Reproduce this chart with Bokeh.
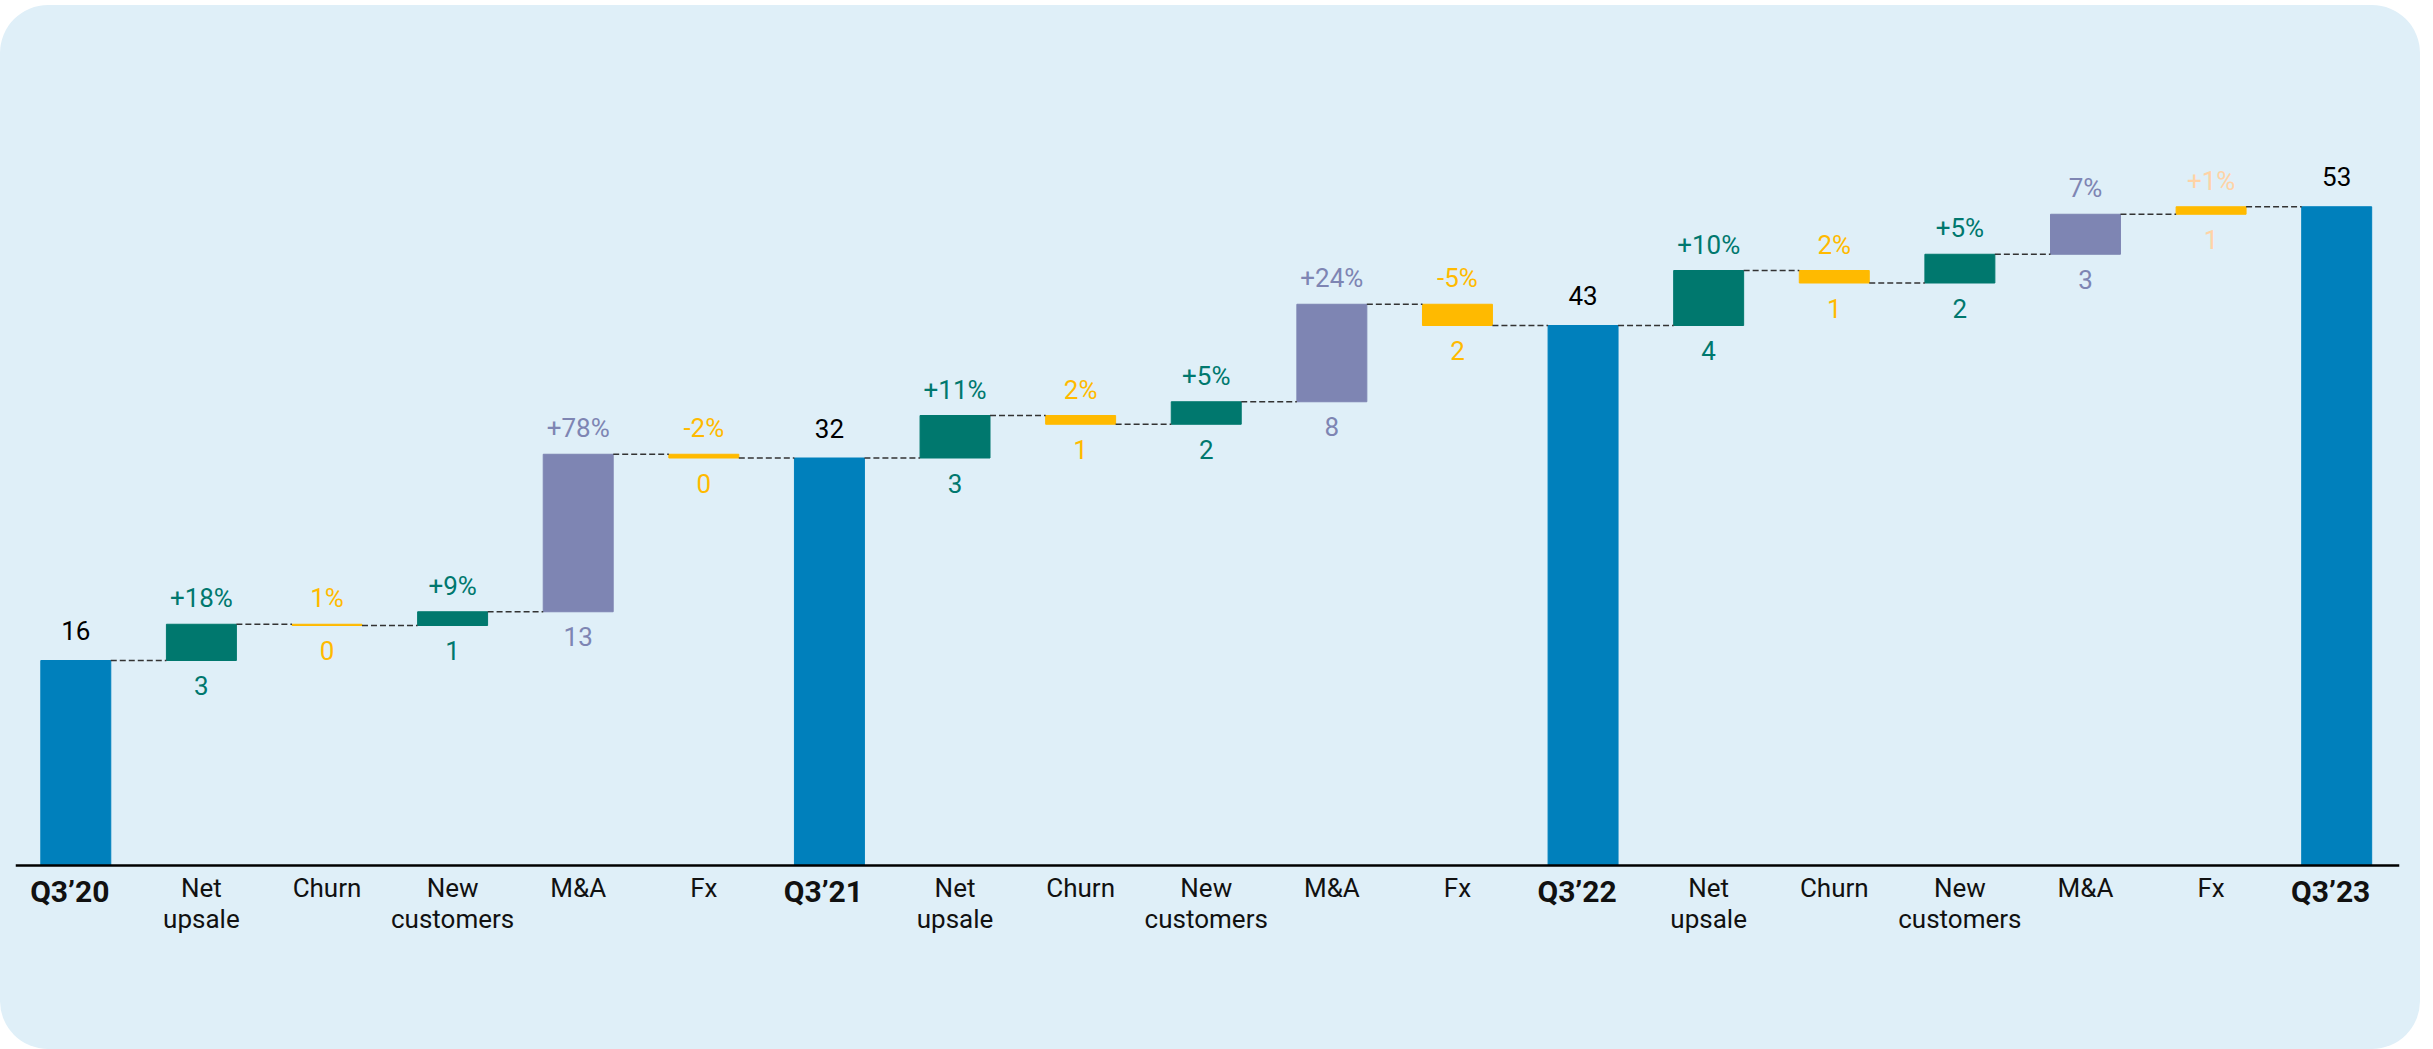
from bokeh.plotting import figure
from bokeh.models import Range1d, ColumnDataSource, Span
from bokeh.core.properties import value
from bokeh.embed import file_html
from bokeh.resources import INLINE

# ---------------- data ----------------
periods = ["Q3\u201920", "Q3\u201921", "Q3\u201922", "Q3\u201923"]
drivers = ["Net\nupsale", "Churn", "New\ncustomers", "M&A", "Fx"]

totals = [16.4, 32.6, 43.2, 52.7]          # bar heights as drawn
total_labels = ["16", "32", "43", "53"]

net_upsale = [2.9, 3.4, 4.4]
churn = [-0.1, -0.7, -1.0]
new_customers = [1.1, 1.8, 2.3]
m_and_a = [12.6, 7.8, 3.2]
fx = [-0.3, -1.7, 0.6]

pct_labels = [
    ["+18%", "1%", "+9%", "+78%", "-2%"],
    ["+11%", "2%", "+5%", "+24%", "-5%"],
    ["+10%", "2%", "+5%", "7%", "+1%"],
]
value_labels = [
    ["3", "0", "1", "13", "0"],
    ["3", "1", "2", "8", "2"],
    ["4", "1", "2", "3", "1"],
]

# ---------------- styling ----------------
BLUE = "#0080BC"
GREEN = "#00786E"
YELLOW = "#FFBA00"
PURPLE = "#7E85B3"
PEACH = "#FFD3A6"
BG = "#DFEFF8"
FONT = "Roboto"
driver_colors = [GREEN, YELLOW, GREEN, PURPLE, YELLOW]
W = 0.557

# ---------------- build waterfall ----------------
xs, bottoms, tops, colors = [], [], [], []
levels = []
top_text, top_x, top_y, top_col = [], [], [], []
bot_text, bot_x, bot_y, bot_col = [], [], [], []
tot_x, tot_y, tot_t = [], [], []
cat_x, cat_t, q_x, q_t = [], [], [], []

changes = [net_upsale, churn, new_customers, m_and_a, fx]
x = 0
for k in range(4):
    xs.append(x); bottoms.append(0); tops.append(totals[k]); colors.append(BLUE)
    levels.append(totals[k])
    tot_x.append(x); tot_y.append(totals[k]); tot_t.append(total_labels[k])
    q_x.append(x); q_t.append(periods[k])
    x += 1
    if k == 3:
        break
    level = totals[k]
    for j in range(5):
        d = changes[j][k]
        b, t = min(level, level + d), max(level, level + d)
        level += d
        xs.append(x); bottoms.append(b); tops.append(t); colors.append(driver_colors[j])
        levels.append(level)
        tc = PEACH if (k == 2 and j == 4) else driver_colors[j]
        top_text.append(pct_labels[k][j]); top_x.append(x); top_y.append(t); top_col.append(tc)
        bot_text.append(value_labels[k][j]); bot_x.append(x); bot_y.append(b); bot_col.append(tc)
        cat_x.append(x); cat_t.append(drivers[j])
        x += 1

p = figure(width=2420, height=1044,
           x_range=Range1d(-0.48, 18.5), y_range=Range1d(-10.8, 61.2),
           output_backend="svg", toolbar_location=None,
           min_border_left=15, min_border_right=21,
           min_border_top=95, min_border_bottom=49)
p.background_fill_alpha = 0
p.border_fill_alpha = 0
p.outline_line_color = None
p.styles = {"background-color": BG, "border-radius": "48px", "margin-top": "5px"}
p.grid.visible = False
p.xaxis.visible = False
p.yaxis.visible = False

bars = ColumnDataSource(dict(x=xs, bottom=bottoms, top=tops, color=colors))
p.vbar(x="x", bottom="bottom", top="top", width=W, color="color", source=bars)

# dashed connectors
seg = ColumnDataSource(dict(
    x0=[xs[i] + W / 2 for i in range(len(xs) - 1)],
    x1=[xs[i + 1] - W / 2 for i in range(len(xs) - 1)],
    y=[levels[i] for i in range(len(xs) - 1)],
))
p.segment(x0="x0", y0="y", x1="x1", y1="y", source=seg,
          line_color="#333333", line_width=1.5, line_dash="6 3")

# baseline (category axis line)
p.add_layout(Span(location=0, dimension="width", line_color="#000000", line_width=2.5))

# value labels
p.text(x=top_x, y=top_y, text=top_text, text_color=top_col,
       text_font=value(FONT), text_font_size="26px", text_align="center",
       text_baseline="alphabetic", y_offset=-26)
p.text(x=bot_x, y=bot_y, text=bot_text, text_color=bot_col,
       text_font=value(FONT), text_font_size="26px", text_align="center",
       text_baseline="alphabetic", y_offset=25)
p.text(x=tot_x, y=tot_y, text=tot_t, text_color="#000000",
       text_font=value(FONT), text_font_size="26px", text_align="center",
       text_baseline="alphabetic", y_offset=-30)

# category labels
p.text(x=cat_x, y=[0] * len(cat_x), text=cat_t, text_color="#111111",
       text_font=value(FONT), text_font_size="26px", text_align="center",
       text_baseline="top", text_line_height=1.04, y_offset=7)
p.text(x=q_x, y=[0] * len(q_x), text=q_t, text_color="#111111",
       text_font=value(FONT), text_font_size="30px", text_font_style="bold",
       text_align="center", text_baseline="top", y_offset=8, x_offset=-6)

open("out.html", "w").write(file_html(p, INLINE))
